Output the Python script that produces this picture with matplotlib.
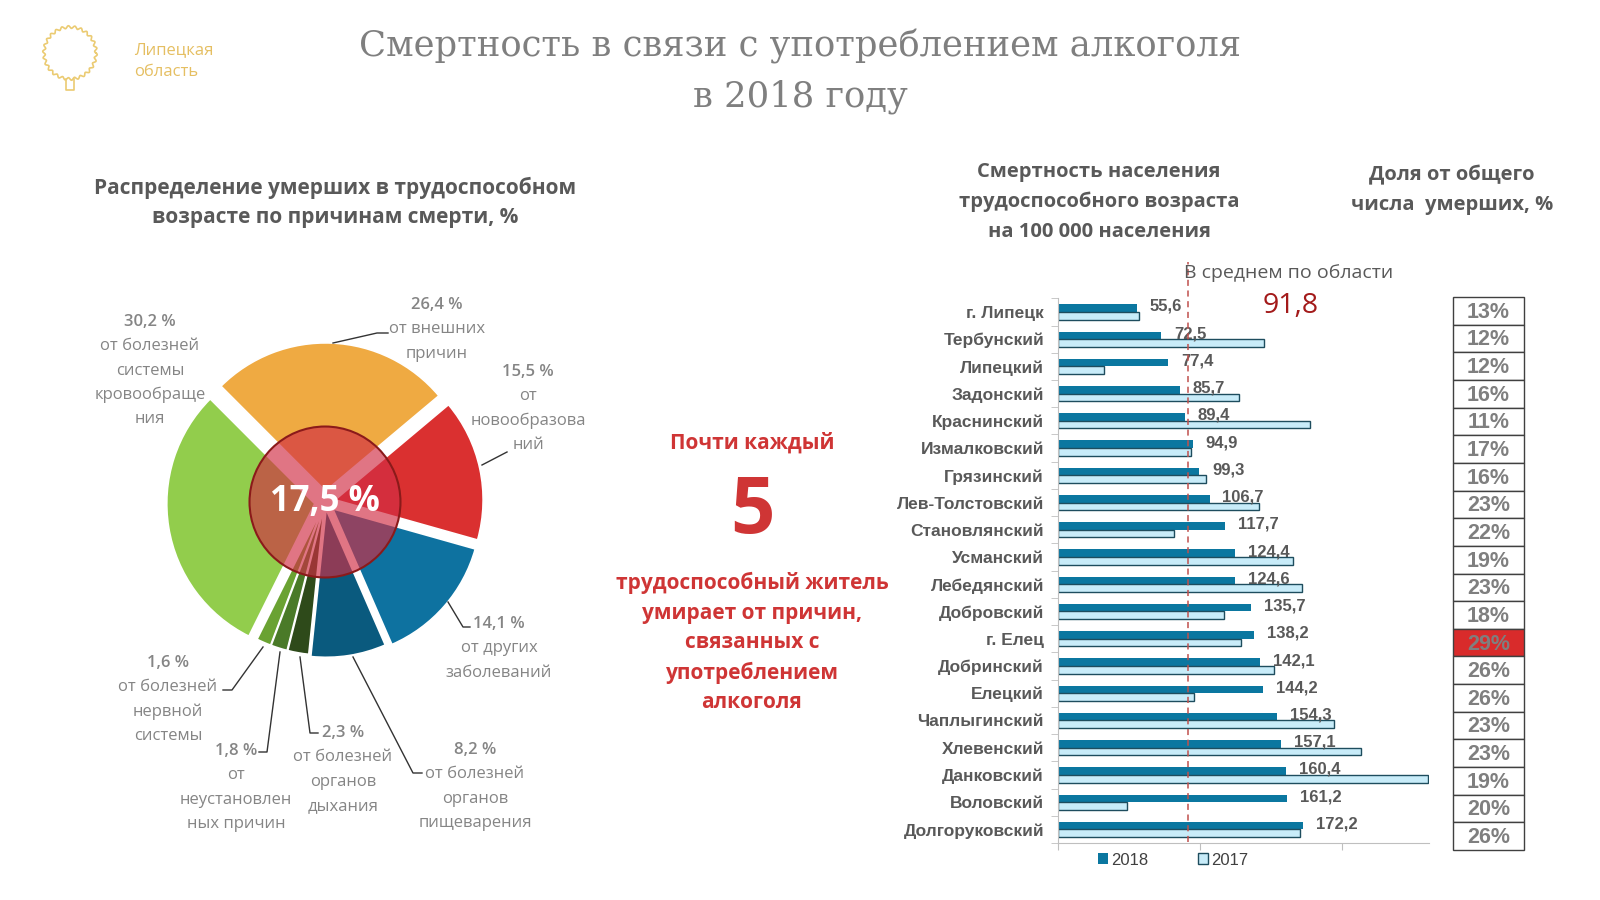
"""Alcohol-related mortality in Lipetsk region, 2018: pie of causes + district bars."""

import matplotlib.pyplot as plt
import numpy as np
from matplotlib.patches import Circle, Rectangle

# ---- data -------------------------------------------------------------------
CAUSE_SHARES = [26.4, 30.2, 1.6, 1.8, 2.3, 8.2, 14.1, 15.5]
CAUSE_COLORS = ["#EFAA42", "#92CD4C", "#6AA232", "#4A7A28", "#2E4A1A",
                "#0A5A7E", "#0E72A0", "#DA3030"]
ALCOHOL_SHARE = "17,5 %"

DISTRICTS = ["г. Липецк", "Тербунский", "Липецкий", "Задонский", "Краснинский",
             "Измалковский", "Грязинский", "Лев-Толстовский", "Становлянский",
             "Усманский", "Лебедянский", "Добровский", "г. Елец", "Добринский",
             "Елецкий", "Чаплыгинский", "Хлевенский", "Данковский", "Воловский",
             "Долгоруковский"]
RATE_2018 = [55.6, 72.5, 77.4, 85.7, 89.4, 94.9, 99.3, 106.7, 117.7, 124.4,
             124.6, 135.7, 138.2, 142.1, 144.2, 154.3, 157.1, 160.4, 161.2, 172.2]
RATE_2017 = [57.0, 145.0, 32.5, 127.5, 177.0, 93.5, 104.0, 141.5, 81.5, 165.5,
             172.0, 116.5, 128.5, 152.0, 96.0, 194.0, 213.5, 260.0, 48.5, 170.5]
REGION_MEAN = 91.8
SHARE_OF_DEATHS = [13, 12, 12, 16, 11, 17, 16, 23, 22, 19, 23, 18, 29, 26, 26,
                   23, 23, 19, 20, 26]
HIGHLIGHT_ROW = 12

GRAY = "#595959"
LGRAY = "#858585"
RED = "#CF3535"

plt.rcParams["font.family"] = ["Open Sans", "DejaVu Sans"]

fig = plt.figure(figsize=(16, 9), dpi=100)


def px_axes(left, top, right, bottom, **kw):
    """Add axes given in pixel coords of the 1600x900 canvas."""
    return fig.add_axes([left / 1600, 1 - bottom / 900,
                         (right - left) / 1600, (bottom - top) / 900], **kw)


# ---- overlay for free text and leader lines (pixel coords) -------------------
ov = fig.add_axes([0, 0, 1, 1], zorder=5)
ov.set_xlim(0, 1600)
ov.set_ylim(900, 0)
ov.axis("off")
ov.patch.set_alpha(0)

# logo
th = np.linspace(0, 2 * np.pi, 400)
r = 26 + 1.3 * np.sin(th * 26)
ov.plot(70 + r * np.cos(th), 53 + r * np.sin(th), color="#EBCB72", lw=1.2)
ov.plot([66, 66, 74, 74], [79, 90, 90, 79], color="#EBCB72", lw=1.2)
ov.text(134, 50, "Липецкая", color="#E5BF62", fontsize=12, va="center")
ov.text(134, 72, "область", color="#E5BF62", fontsize=12, va="center")

# title
ov.text(800, 46, "Смертность в связи с употреблением алкоголя",
        family="DejaVu Serif", fontsize=25.5, color="#7F7F7F", ha="center", va="center")
ov.text(800, 97, "в 2018 году", family="DejaVu Serif", fontsize=25.5,
        color="#7F7F7F", ha="center", va="center")

# section headers
for y, s in [(188, "Распределение умерших в трудоспособном"),
             (217, "возрасте по причинам смерти, %")]:
    ov.text(335, y, s, fontsize=15, weight="bold", color=GRAY, ha="center", va="center")
for y, s in [(172, "Смертность населения"), (202, "трудоспособного возраста"),
             (232, "на 100 000 населения")]:
    ov.text(1099, y, s, fontsize=14.5, weight="bold", color=GRAY, ha="center", va="center")
for y, s in [(175, "Доля от общего"), (205, "числа  умерших, %")]:
    ov.text(1452, y, s, fontsize=14.5, weight="bold", color=GRAY, ha="center", va="center")

# middle message
ov.text(752, 443, "Почти каждый", fontsize=15, weight="bold", color=RED, ha="center", va="center")
ov.text(752, 513, "5", fontsize=56, weight="bold", color=RED, ha="center", va="center")
for k, s in enumerate(["трудоспособный житель", "умирает от причин,", "связанных с",
                       "употреблением", "алкоголя"]):
    ov.text(752, 583 + 30 * k, s, fontsize=15, weight="bold", color=RED,
            ha="center", va="center")

# pie labels: (x, first y, lines)
pie_labels = [
    (150, 322, ["30,2 %", "от болезней", "системы", "кровообраще", "ния"]),
    (437, 305, ["26,4 %", "от внешних", "причин"]),
    (528, 372, ["15,5 %", "от", "новообразова", "ний"]),
    (499, 624, ["14,1 %", "от других", "заболеваний"]),
    (168, 663, ["1,6 %", "от болезней", "нервной", "системы"]),
    (236, 751, ["1,8 %", "от", "неустановлен", "ных причин"]),
    (343, 733, ["2,3 %", "от болезней", "органов", "дыхания"]),
    (475, 750, ["8,2 %", "от болезней", "органов", "пищеварения"]),
]
for x, y0, lines in pie_labels:
    for k, s in enumerate(lines):
        ov.text(x, y0 + 24.3 * k, s, fontsize=12, color=LGRAY,
                weight="semibold" if k == 0 else "normal", ha="center", va="center")

leaders = [
    ([333, 377, 388], [343, 333, 333]),
    ([482, 507], [465, 452]),
    ([448, 463, 470], [602, 627, 627]),
    ([353, 413, 422], [657, 773, 773]),
    ([300, 310, 318], [657, 733, 733]),
    ([280, 267, 259], [652, 752, 752]),
    ([263, 232, 223], [647, 690, 690]),
]
for xs, ys in leaders:
    ov.plot(xs, ys, color="#333333", lw=1)

# ---- pie ------------------------------------------------------------------------
R_PX = 148
ax_pie = px_axes(325 - 200, 502 - 200, 325 + 200, 502 + 200)
explode = [0.075, 0.07, 0.035, 0.035, 0.035, 0.05, 0.07, 0.07]
ax_pie.pie(CAUSE_SHARES, colors=CAUSE_COLORS, startangle=40, counterclock=True,
           explode=explode, wedgeprops=dict(edgecolor="white", linewidth=1.2))
lim = 200 / R_PX
ax_pie.set_xlim(-lim, lim)
ax_pie.set_ylim(-lim, lim)
ax_pie.set_aspect("equal")
ax_pie.add_patch(Circle((0, 0), 0.51, facecolor="#D12D44", alpha=0.66, zorder=5))
ax_pie.add_patch(Circle((0, 0), 0.51, facecolor="none", edgecolor="#8B1A1A",
                        lw=1.5, zorder=6))
ax_pie.text(0, 0.0, ALCOHOL_SHARE, fontsize=25, weight="bold", color="white",
            ha="center", va="center", zorder=7)
ax_pie.axis("off")

# ---- bars -----------------------------------------------------------------------
ax = px_axes(1058, 298, 1429, 843)
rows = np.arange(len(DISTRICTS))
h = 0.28
b18 = ax.barh(rows - h / 2, RATE_2018, height=h, color="#0B77A0", label="2018")
b17 = ax.barh(rows + h / 2, RATE_2017, height=h, color="#C8ECF9",
              edgecolor="#1E4D5E", linewidth=1, label="2017")
ax.set_xlim(0, 261)
ax.set_ylim(len(DISTRICTS) - 0.55, -0.51)
for i, v in enumerate(RATE_2018):
    ax.text(v + 9, i - 0.2, f"{v:.1f}".replace(".", ","), fontsize=12,
            weight="bold", color=GRAY, family="Liberation Sans", va="center")
ax.plot([REGION_MEAN, REGION_MEAN], [len(DISTRICTS) - 0.55, -1.85], color="#C0504D",
        lw=1.1, ls=(0, (4, 3)), clip_on=False, zorder=4)
ov.text(1184, 273, "В среднем по области", fontsize=14, color=GRAY, va="center")
ov.text(1291, 306, f"{REGION_MEAN:.1f}".replace(".", ","), fontsize=20.5,
        color="#A31A1A", ha="center", va="center")

ax.set_yticks(rows)
ax.set_yticklabels(DISTRICTS, family="Liberation Sans", weight="bold",
                   fontsize=12.5, color=GRAY)
ax.tick_params(axis="y", length=0, pad=10)
ax.set_yticks(np.arange(len(DISTRICTS) + 1) - 0.5, minor=True)
ax.tick_params(axis="y", which="minor", length=5, color="#BFBFBF")
ax.set_xticks([0, 100, 200])
ax.set_xticklabels([])
ax.tick_params(axis="x", length=5, color="#BFBFBF")
for s in ("top", "right"):
    ax.spines[s].set_visible(False)
for s in ("left", "bottom"):
    ax.spines[s].set_color("#BFBFBF")
ax.legend(handles=[b18, b17], ncol=2, loc="upper center", bbox_to_anchor=(0.31, 0.01),
          frameon=False, handlelength=0.6, handleheight=0.6, handletextpad=0.2,
          columnspacing=3.0, prop={"family": "Liberation Sans", "size": 12},
          labelcolor="#404040")

# ---- share table ----------------------------------------------------------------
at = px_axes(1453, 297, 1524, 850)
at.set_xlim(0, 1)
at.set_ylim(len(SHARE_OF_DEATHS), 0)
for i, p in enumerate(SHARE_OF_DEATHS):
    fc = "#D92B2B" if i == HIGHLIGHT_ROW else "white"
    at.add_patch(Rectangle((0, i), 1, 1, facecolor=fc, edgecolor="#404040", lw=1,
                           clip_on=False))
    at.text(0.5, i + 0.55, f"{p}%", fontsize=15.5, weight="bold", color="#7F7F7F",
            family="Liberation Sans", ha="center", va="center")
at.axis("off")

fig.savefig("out.png", dpi=100, facecolor="white")
